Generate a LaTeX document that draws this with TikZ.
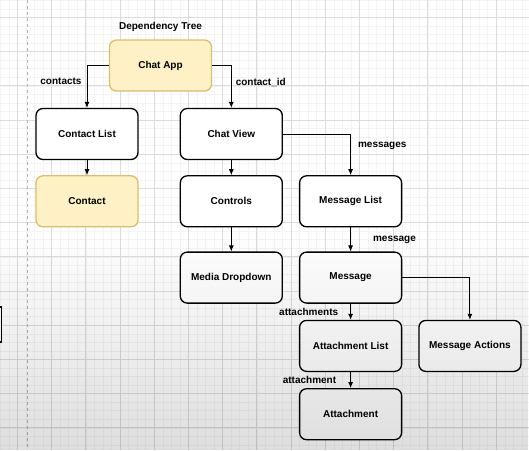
\documentclass[tikz,border=0pt]{standalone}
\usepackage{fontspec}
\setmainfont{Liberation Sans}
\usepackage{tikz}
\usetikzlibrary{
	positioning,
	arrows.meta,
	fadings
}
\definecolor{noteyellow}{HTML}{FDF1C5}
\definecolor{noteline}{HTML}{D8C06A}
\definecolor{gridmajor}{HTML}{DCDCDC}
\definecolor{gridminor}{HTML}{F4F4F4}

\begin{document}
\begin{tikzpicture}[x=1pt,y=-1pt,
	box/.style={draw=black,line width=1.3pt,rounded corners=7pt,fill=white,
		minimum width=102pt,minimum height=51pt,inner sep=0pt,
		font=\bfseries\fontsize{10}{12}\selectfont},
	notebox/.style={box,draw=noteline,fill=noteyellow},
	link/.style={-{Latex[length=6pt,width=5pt]},line width=0.9pt},
	tag/.style={inner sep=1pt,font=\bfseries\fontsize{10}{12}\selectfont}
	]
	\useasboundingbox (0,0) rectangle (529,450);
	\clip (0,0) rectangle (529,450);
	\fill[white] (0,0) rectangle (529,450);
	% grid
	\foreach \x in {0.3,8.85,...,529} {
		\draw[gridminor,line width=0.5pt] (\x,0) -- (\x,450);
		\draw[gridminor,line width=0.5pt] (0,\x) -- (529,\x);
	}
	\foreach \x in {17.4,51.6,...,529} {
		\draw[gridmajor,line width=0.7pt] (\x,0) -- (\x,450);
		\draw[gridmajor,line width=0.7pt] (0,\x) -- (529,\x);
	}
	\draw[gray!60,dashed,line width=0.7pt] (27.5,0) -- (27.5,450);
	\draw[black,line width=1.3pt,fill=white] (-40,307) rectangle (1.5,342);

	\node [notebox]                    (app)   at (160.5,65.5) {Chat App};
	\node [tag,above=7pt of app]       (title) {Dependency Tree};
	\node [box]                        (cl)    at (87,134) {Contact List};
	\node [notebox,below=15pt of cl]   (ct)    {Contact};
	\node [box,right=41pt of cl]       (cv)    {Chat View};
	\node [box,below=15pt of cv]       (ctrl)  {Controls};
	\node [box,below=24pt of ctrl]     (media) {Media Dropdown};
	\node [box,right=16pt of ctrl]     (ml)    {Message List};
	\node [box,below=24pt of ml]       (msg)   {Message};
	\node [box,below=16pt of msg]      (al)    {Attachment List};
	\node [box,below=16pt of al]       (att)   {Attachment};
	\node [box,right=16pt of al]       (ma)    {Message Actions};

	\draw[link] (app.west) -| node[tag,pos=0.69,left=4pt] {contacts} (cl.north);
	\draw[link] (app.east) -| node[tag,pos=0.7,right=3pt] {contact\_id} (cv.north);
	\draw[link] (cl) -- (ct);
	\draw[link] (cv) -- (ctrl);
	\draw[link] (ctrl) -- (media);
	\draw[link] (cv.east) -| node[tag,pos=0.65,right=6pt] {messages} (ml.north);
	\draw[link] (ml) -- node[tag,right=21pt] {message} (msg);
	\draw[link] (msg.east) -| (ma.north);
	\draw[link] (msg) -- node[tag,left=11pt] {attachments} (al);
	\draw[link] (al) -- node[tag,left=13pt] {attachment} (att);

	% darker towards the bottom
	\fill[black,fill opacity=0.13,path fading=north] (0,230) rectangle (529,450);
\end{tikzpicture}
\end{document}
